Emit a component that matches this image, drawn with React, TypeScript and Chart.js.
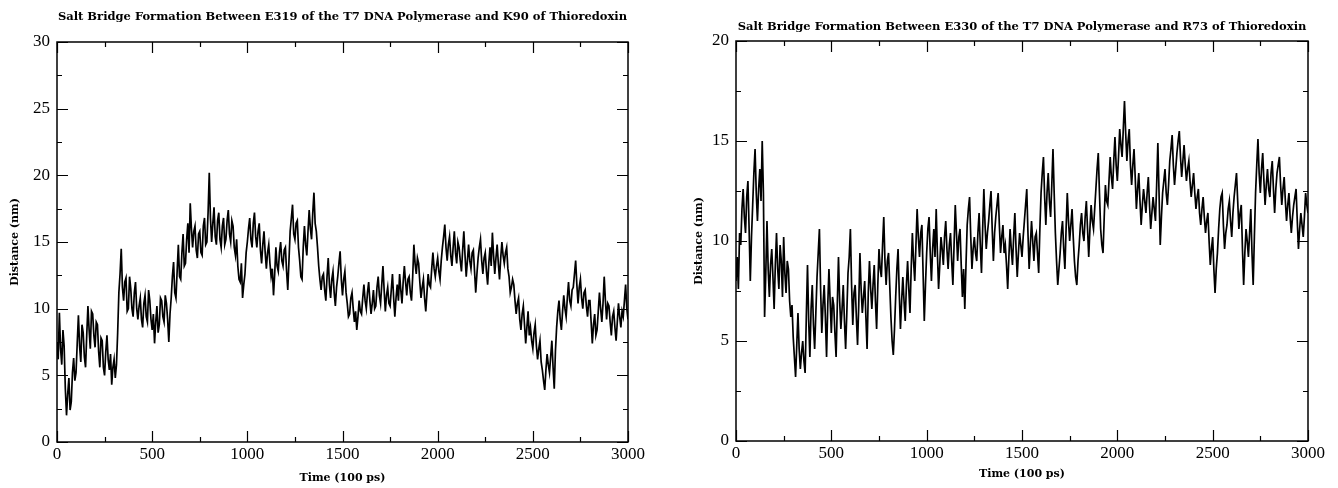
import { useEffect, useRef } from "react";
import { Chart, registerables } from "chart.js";

Chart.register(...registerables);

const TIME_STEP = 6.25;

const leftTitle = "Salt Bridge Formation Between E319 of the T7 DNA Polymerase and K90 of Thioredoxin";
const rightTitle = "Salt Bridge Formation Between E330 of the T7 DNA Polymerase and R73 of Thioredoxin";
const xAxisTitle = "Time (100 ps)";
const yAxisTitle = "Distance (nm)";

const xMajorTicks = [0, 500, 1000, 1500, 2000, 2500, 3000];
const xMinorTicks = [250, 750, 1250, 1750, 2250, 2750];
const leftYMajorTicks = [0, 5, 10, 15, 20, 25, 30];
const leftYMinorTicks = [2.5, 7.5, 12.5, 17.5, 22.5, 27.5];
const rightYMajorTicks = [0, 5, 10, 15, 20];
const rightYMinorTicks = [2.5, 7.5, 12.5, 17.5];

// E319 - K90 distance (nm), sampled every 6.25 time units from 0 to 3000 (16 per 100)
const leftDistances = [
  7.5, 6.2, 9.7, 7.0, 5.8, 8.4, 7.2, 4.0, 2.0, 3.6, 4.8, 2.4, 3.0, 5.2, 6.3, 4.6,
  5.2, 7.4, 9.5, 7.2, 6.0, 8.8, 8.2, 6.4, 5.6, 8.0, 10.2, 8.4, 7.0, 9.8, 9.6, 8.0,
  7.1, 9.0, 8.8, 6.8, 5.6, 7.8, 7.6, 5.6, 5.0, 6.8, 8.0, 6.2, 5.4, 6.6, 4.3, 5.6,
  6.2, 4.8, 5.8, 8.2, 11.2, 12.6, 14.5, 11.6, 10.6, 12.0, 12.3, 9.8, 10.0, 12.4, 11.5, 10.0,
  9.4, 11.2, 12.0, 10.0, 9.2, 10.2, 10.8, 9.2, 8.6, 10.4, 11.0, 9.4, 9.0, 11.4, 10.6, 9.2,
  8.4, 9.6, 7.4, 9.0, 10.2, 8.2, 8.8, 10.8, 10.6, 9.4, 9.0, 11.0, 10.4, 9.2, 7.5, 9.6,
  10.8, 12.4, 13.5, 11.2, 10.8, 12.8, 14.8, 12.4, 12.2, 14.2, 15.6, 13.2, 13.4, 15.2, 16.4, 14.2,
  17.9, 16.0, 14.6, 15.8, 16.2, 14.4, 13.8, 15.6, 15.8, 14.2, 14.0, 16.2, 16.8, 14.8, 15.0, 17.2,
  20.2, 16.8, 15.0, 16.4, 17.6, 15.4, 14.8, 16.6, 17.2, 15.2, 14.6, 16.2, 16.8, 14.8, 15.2, 16.6,
  17.4, 15.6, 15.0, 16.6, 16.2, 14.6, 14.0, 15.2, 13.2, 12.2, 12.0, 13.4, 10.8, 11.8, 12.6, 14.2,
  15.0, 16.0, 16.8, 15.2, 14.6, 16.4, 17.2, 15.4, 14.6, 15.8, 16.4, 14.4, 13.4, 14.8, 15.8, 14.2,
  13.0, 14.2, 14.8, 13.4, 12.4, 13.0, 11.0, 12.6, 14.6, 13.2, 12.8, 14.2, 15.0, 13.6, 13.2, 14.4,
  14.6, 12.8, 11.4, 13.6, 15.8, 16.8, 17.8, 15.6, 15.2, 16.4, 16.6, 14.6, 13.6, 12.4, 12.2, 14.6,
  16.2, 14.8, 14.0, 15.8, 17.4, 16.0, 15.2, 17.2, 18.7, 16.4, 15.8, 14.6, 13.2, 12.2, 11.4, 12.4,
  12.6, 11.4, 10.6, 12.4, 13.8, 11.8, 10.8, 12.2, 12.8, 11.2, 10.2, 11.6, 12.4, 13.4, 14.3, 12.2,
  11.0, 12.2, 12.8, 11.2, 10.4, 9.4, 9.6, 10.8, 11.2, 10.0, 9.0, 9.8, 8.4, 9.4, 10.6, 9.8,
  9.6, 10.8, 11.8, 10.6, 10.0, 11.2, 12.0, 10.6, 9.6, 10.4, 11.4, 10.0, 10.2, 11.6, 12.4, 11.0,
  10.4, 11.8, 13.2, 11.4, 9.8, 11.0, 11.6, 10.4, 10.2, 11.4, 12.6, 10.8, 9.4, 10.8, 11.8, 10.6,
  12.6, 11.4, 10.4, 12.0, 13.2, 12.0, 11.0, 12.2, 12.4, 11.2, 10.6, 12.4, 14.8, 13.4, 12.6, 13.8,
  13.4, 12.0, 10.8, 11.6, 12.2, 10.8, 9.8, 11.2, 12.6, 11.8, 11.6, 13.0, 14.2, 13.0, 12.4, 13.2,
  13.8, 12.8, 12.2, 13.6, 14.6, 15.4, 16.3, 14.6, 13.6, 14.8, 15.4, 14.0, 13.2, 14.6, 15.8, 14.2,
  13.4, 15.0, 14.6, 13.6, 12.8, 14.4, 15.8, 14.0, 12.4, 13.6, 14.8, 13.6, 13.0, 14.2, 14.4, 12.8,
  11.2, 12.6, 13.8, 14.6, 15.2, 13.6, 12.6, 13.8, 14.2, 12.8, 11.8, 13.4, 14.6, 13.2, 15.7, 14.0,
  12.6, 13.8, 14.8, 13.4, 12.2, 13.8, 15.0, 14.0, 13.4, 14.2, 14.6, 13.0, 12.4, 11.2, 11.6, 12.2,
  11.8, 10.6, 9.6, 10.4, 10.8, 9.2, 8.4, 9.6, 10.2, 8.8, 7.4, 8.6, 9.8, 8.0, 8.6, 7.6,
  7.0, 8.2, 8.8, 7.2, 6.2, 7.0, 7.6, 6.0, 5.4, 4.6, 3.9, 5.4, 6.6, 5.8, 5.2, 6.4,
  7.6, 5.6, 4.0, 6.8, 8.6, 9.8, 10.6, 9.2, 8.4, 9.8, 11.0, 10.0, 9.4, 10.8, 12.0, 10.6,
  10.2, 11.4, 11.6, 12.6, 13.6, 11.8, 10.4, 11.6, 12.2, 10.8, 10.0, 11.2, 11.4, 10.2, 9.4, 10.6,
  10.6, 9.0, 7.4, 8.8, 9.6, 8.0, 8.4, 9.8, 11.2, 10.0, 9.0, 10.4, 12.4, 10.6, 9.2, 10.4,
  10.2, 9.0, 8.0, 9.4, 9.8, 8.6, 7.6, 9.0, 10.4, 9.4, 8.6, 9.8, 9.4, 10.6, 11.8, 10.0,
  9.2,
];

// E330 - R73 distance (nm), sampled every 6.25 time units from 0 to 3000 (16 per 100)
const rightDistances = [
  8.0, 9.2, 7.6, 10.4, 9.8, 11.6, 12.6, 11.2, 10.4, 12.2, 13.0, 10.6, 8.0, 10.2, 11.8, 13.4,
  14.6, 12.4, 11.0, 12.6, 13.6, 12.0, 15.0, 12.4, 6.2, 8.4, 11.0, 8.6, 7.2, 8.8, 9.6, 8.2,
  6.6, 8.8, 10.4, 8.6, 7.6, 9.8, 9.0, 7.2, 10.2, 8.4, 7.4, 9.0, 8.6, 7.0, 6.2, 6.8,
  5.2, 4.2, 3.2, 4.8, 6.4, 4.6, 3.6, 4.4, 5.0, 4.0, 3.4, 6.2, 8.8, 6.0, 4.2, 6.6,
  7.8, 5.8, 4.6, 6.4, 8.2, 9.4, 10.6, 7.6, 5.4, 6.8, 7.8, 6.2, 4.2, 6.8, 8.6, 7.0,
  5.4, 7.2, 6.8, 5.4, 4.2, 6.8, 9.2, 7.0, 5.6, 6.6, 7.8, 6.0, 4.6, 6.4, 8.4, 9.2,
  10.6, 7.8, 5.8, 7.4, 7.8, 6.2, 4.8, 6.8, 9.4, 7.6, 6.4, 7.2, 8.0, 6.2, 4.6, 7.4,
  9.0, 7.6, 6.6, 7.8, 8.8, 7.0, 5.6, 7.8, 9.6, 8.6, 8.2, 9.8, 11.2, 9.0, 7.8, 9.0,
  9.4, 7.8, 6.2, 5.0, 4.3, 5.6, 7.2, 8.6, 9.6, 7.4, 5.6, 7.0, 8.2, 7.0, 6.0, 7.8,
  9.0, 7.6, 6.4, 8.6, 10.4, 9.0, 8.0, 9.8, 11.6, 10.2, 9.2, 10.4, 10.8, 8.4, 6.0, 7.8,
  9.4, 10.6, 11.2, 9.4, 8.0, 9.6, 10.6, 9.2, 11.6, 9.4, 7.6, 8.8, 10.2, 9.6, 8.8, 10.2,
  11.0, 9.6, 8.6, 9.8, 10.4, 9.0, 7.8, 9.8, 11.8, 10.4, 9.0, 10.2, 10.6, 8.8, 7.2, 8.6,
  6.6, 8.8, 10.8, 11.6, 12.2, 10.2, 8.6, 9.6, 10.2, 9.4, 9.0, 10.4, 11.4, 9.8, 8.4, 10.6,
  12.6, 10.8, 9.6, 10.4, 11.0, 11.8, 12.5, 10.6, 9.0, 10.4, 11.2, 11.8, 12.4, 10.8, 9.4, 10.2,
  10.8, 9.4, 9.8, 8.8, 7.6, 9.2, 10.6, 9.6, 8.8, 10.2, 11.4, 9.6, 8.2, 9.4, 10.4, 9.8,
  9.2, 10.2, 11.0, 11.8, 12.6, 10.4, 8.6, 9.8, 11.0, 10.0, 9.0, 10.2, 10.4, 9.4, 8.4, 10.6,
  12.4, 13.4, 14.2, 12.2, 10.8, 12.4, 13.4, 12.0, 11.2, 12.8, 14.6, 12.4, 10.4, 9.0, 7.8, 8.6,
  9.4, 10.4, 11.0, 9.6, 8.6, 10.6, 12.4, 11.0, 10.0, 10.8, 11.6, 10.2, 9.0, 8.2, 7.8, 9.0,
  9.8, 10.8, 11.4, 10.4, 10.0, 11.2, 12.0, 10.6, 9.2, 10.6, 11.8, 11.0, 10.6, 11.6, 12.6, 13.6,
  14.4, 12.4, 10.6, 9.8, 9.4, 11.2, 12.8, 12.0, 11.8, 13.0, 14.2, 13.2, 12.6, 14.0, 15.2, 13.8,
  13.0, 14.2, 15.6, 14.8, 14.2, 15.6, 17.0, 15.4, 14.0, 15.0, 15.6, 13.8, 12.8, 13.8, 14.6, 13.2,
  11.6, 12.6, 13.4, 12.0, 10.8, 11.8, 12.6, 12.0, 11.4, 12.4, 13.2, 11.8, 10.6, 11.4, 12.2, 11.6,
  11.0, 12.8, 14.9, 12.4, 9.8, 11.2, 12.4, 13.0, 13.6, 12.4, 11.8, 12.8, 14.0, 14.6, 15.3, 13.8,
  12.8, 13.6, 14.4, 15.0, 15.5, 14.2, 13.2, 14.0, 14.8, 13.8, 13.0, 13.6, 14.0, 13.0, 12.2, 12.8,
  13.4, 12.4, 11.6, 12.2, 12.6, 11.4, 10.8, 11.6, 12.2, 11.2, 10.4, 11.0, 11.4, 10.0, 8.8, 9.6,
  10.2, 8.6, 7.4, 8.6, 9.4, 10.6, 11.6, 12.2, 12.4, 10.8, 9.6, 10.4, 10.8, 11.6, 12.0, 11.0,
  10.2, 11.4, 12.2, 12.8, 13.4, 12.0, 10.6, 11.4, 11.8, 9.6, 7.8, 9.4, 10.6, 10.0, 9.2, 10.4,
  11.6, 9.4, 7.8, 10.2, 12.4, 13.8, 15.1, 13.4, 12.4, 13.6, 14.4, 13.0, 11.8, 12.8, 13.6, 12.6,
  12.2, 13.4, 14.0, 12.6, 11.4, 12.6, 13.4, 13.8, 14.2, 12.8, 11.8, 12.6, 13.2, 12.0, 11.0, 11.8,
  12.4, 11.2, 10.4, 11.2, 11.8, 12.2, 12.6, 11.0, 9.6, 10.6, 11.4, 10.8, 10.2, 11.2, 12.4, 11.8,
  11.4,
];

const TICK_FONT = { family: "'Liberation Serif', 'Times New Roman', serif", size: 17 };
const TITLE_FONT = { family: "'DejaVu Serif', serif", size: 11.5, weight: "bold" as const };
const AXIS_TITLE_FONT = { family: "'DejaVu Serif', serif", size: 11, weight: "bold" as const };

type PanelSpec = {
  title: string;
  values: number[];
  yMax: number;
  yMajor: number[];
  yMinor: number[];
  yAxisWidth: number;
  xAxisHeight: number;
  padRight: number;
  titlePad: { top: number; bottom: number };
  yTitlePad: number;
  xTitlePad: number;
};

const frameAndTicks = {
  id: "frameAndTicks",
  afterDraw(chart: any, _args: any, opts: any) {
    const { ctx, chartArea: a, scales } = chart;
    const x = scales.x;
    const y = scales.y;
    ctx.save();
    ctx.strokeStyle = "#000";
    ctx.lineWidth = 1.5;
    ctx.strokeRect(a.left, a.top, a.right - a.left, a.bottom - a.top);
    ctx.lineWidth = 1.2;
    const major = 11;
    const minor = 5;
    const drawX = (vals: number[], len: number) => {
      for (const v of vals) {
        const px = Math.round(x.getPixelForValue(v)) + 0.5;
        ctx.beginPath();
        ctx.moveTo(px, a.bottom);
        ctx.lineTo(px, a.bottom - len);
        ctx.moveTo(px, a.top);
        ctx.lineTo(px, a.top + len);
        ctx.stroke();
      }
    };
    const drawY = (vals: number[], len: number) => {
      for (const v of vals) {
        const py = Math.round(y.getPixelForValue(v)) + 0.5;
        ctx.beginPath();
        ctx.moveTo(a.left, py);
        ctx.lineTo(a.left + len, py);
        ctx.moveTo(a.right, py);
        ctx.lineTo(a.right - len, py);
        ctx.stroke();
      }
    };
    drawX(opts.xMajor, major);
    drawX(opts.xMinor, minor);
    drawY(opts.yMajor, major);
    drawY(opts.yMinor, minor);
    ctx.restore();
  },
};

function Panel({ spec, left }: { spec: PanelSpec; left: number }) {
  const ref = useRef<HTMLCanvasElement | null>(null);
  useEffect(() => {
    if (!ref.current) return;
    const chart = new Chart(ref.current, {
      type: "line",
      data: {
        datasets: [
          {
            data: spec.values.map((d, i) => ({ x: i * TIME_STEP, y: d })),
            borderColor: "#000",
            borderWidth: 1.7,
            pointRadius: 0,
            tension: 0,
            fill: false,
          },
        ],
      },
      options: {
        animation: false,
        responsive: false,
        devicePixelRatio: 1,
        layout: { padding: { left: 0, top: 0, right: spec.padRight, bottom: 0 } },
        plugins: {
          legend: { display: false },
          tooltip: { enabled: false },
          title: {
            display: true,
            text: spec.title,
            color: "#000",
            font: TITLE_FONT,
            fullSize: false,
            padding: spec.titlePad,
          },
          frameAndTicks: {
            xMajor: xMajorTicks,
            xMinor: xMinorTicks,
            yMajor: spec.yMajor,
            yMinor: spec.yMinor,
          },
        } as any,
        scales: {
          x: {
            type: "linear",
            min: 0,
            max: 3000,
            afterBuildTicks: (s: any) => {
              s.ticks = xMajorTicks.map((v) => ({ value: v }));
            },
            afterFit: (s: any) => {
              s.height = spec.xAxisHeight;
            },
            ticks: {
              color: "#000",
              font: TICK_FONT,
              padding: 2,
              maxRotation: 0,
              autoSkip: false,
              callback: (v: any) => String(v),
            },
            grid: { display: false, drawTicks: false },
            border: { display: false },
            title: {
              display: true,
              text: xAxisTitle,
              color: "#000",
              font: AXIS_TITLE_FONT,
              padding: { top: 0, bottom: spec.xTitlePad },
            },
          },
          y: {
            type: "linear",
            min: 0,
            max: spec.yMax,
            afterBuildTicks: (s: any) => {
              s.ticks = spec.yMajor.map((v) => ({ value: v }));
            },
            afterFit: (s: any) => {
              s.width = spec.yAxisWidth;
            },
            ticks: {
              color: "#000",
              font: TICK_FONT,
              padding: 7,
              autoSkip: false,
              callback: (v: any) => String(v),
            },
            grid: { display: false, drawTicks: false },
            border: { display: false },
            title: {
              display: true,
              text: yAxisTitle,
              color: "#000",
              font: AXIS_TITLE_FONT,
              padding: { top: spec.yTitlePad, bottom: 0 },
            },
          },
        },
      },
      plugins: [frameAndTicks],
    } as any);
    return () => chart.destroy();
  }, [spec]);
  return (
    <canvas
      ref={ref}
      width={669}
      height={488}
      style={{ position: "absolute", left, top: 0, width: 669, height: 488 }}
    />
  );
}

const leftSpec: PanelSpec = {
  title: leftTitle,
  values: leftDistances,
  yMax: 30,
  yMajor: leftYMajorTicks,
  yMinor: leftYMinorTicks,
  yAxisWidth: 57,
  xAxisHeight: 46,
  padRight: 41,
  titlePad: { top: 10.5, bottom: 17.7 },
  yTitlePad: 9,
  xTitlePad: 3,
};

const rightSpec: PanelSpec = {
  title: rightTitle,
  values: rightDistances,
  yMax: 20,
  yMajor: rightYMajorTicks,
  yMinor: rightYMinorTicks,
  yAxisWidth: 67,
  xAxisHeight: 47,
  padRight: 30,
  titlePad: { top: 20, bottom: 7.2 },
  yTitlePad: 24,
  xTitlePad: 7,
};

export default function App() {
  return (
    <div style={{ position: "fixed", left: 0, top: 0, width: 1338, height: 488, background: "#fff" }}>
      <Panel spec={leftSpec} left={0} />
      <Panel spec={rightSpec} left={669} />
    </div>
  );
}
